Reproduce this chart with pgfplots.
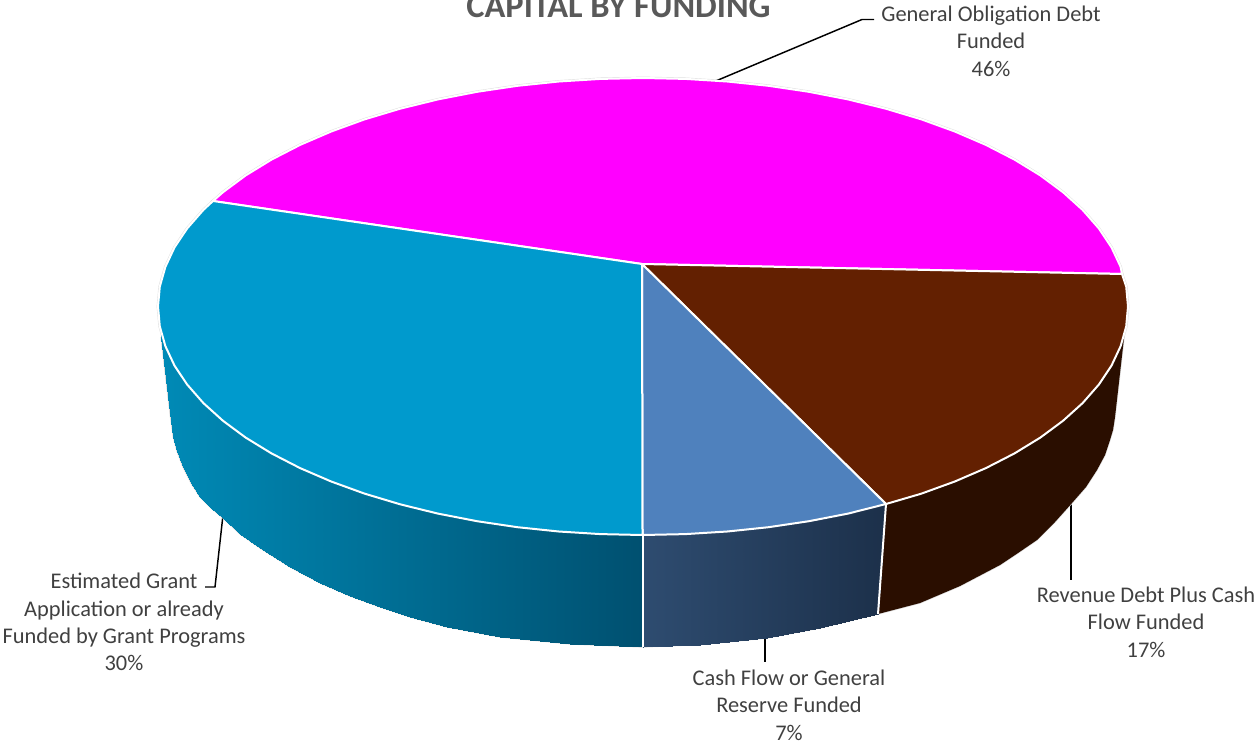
\documentclass[border=0pt]{standalone}
\usepackage{fontspec}
\setmainfont{Carlito}
\usepackage{pgfplots}
\usepackage{pgfplotstable}
\pgfplotsset{compat=1.18}
\definecolor{cMag}{HTML}{FF00FF}
\definecolor{cBrown}{HTML}{632001}
\definecolor{cBrownD}{HTML}{2A0E00}
\definecolor{cSteel}{HTML}{4F81BD}
\definecolor{cBlue}{HTML}{009ACD}
\definecolor{cTxt}{HTML}{404040}
\definecolor{cTitle}{HTML}{595959}
\definecolor{cEdge}{HTML}{DCDCDC}
\pgfplotsset{
 colormap={sideblue}{rgb255=(0,138,182) rgb255=(0,80,112)},
 colormap={sidesteel}{rgb255=(46,76,112) rgb255=(28,48,74)},
}
\tikzset{lab/.style={text=cTxt,align=center,inner sep=0pt,font=\fontsize{16.8}{20.5}\selectfont}}
\pgfplotstableread{
x y
213 201
223.0 192.2
245.7 175.4
271.5 159.6
300.1 144.9
331.2 131.5
364.8 119.3
400.5 108.6
438 99.4
477.1 91.8
517.5 85.8
558.8 81.5
600.7 78.9
643 78
685.3 78.9
727.2 81.5
768.5 85.8
808.9 91.8
848 99.4
885.5 108.6
921.2 119.3
954.8 131.5
985.9 144.9
1014.5 159.6
1040.3 175.4
1063 192.2
1082.6 209.9
1098.8 228.4
1111.5 247.4
1120.6 266.8
1122 274
642 264
}\tMag
\pgfplotstableread{
x y
1122 274
1126.2 286.6
1128 306.5
1126.2 326.4
1120.6 346.2
1111.5 365.6
1098.8 384.6
1082.6 403.1
1063 420.8
1040.3 437.6
1014.5 453.4
985.9 468.1
954.8 481.5
921.2 493.7
886 504
642 264
}\tBrown
\pgfplotstableread{
x y
886 504
848 513.6
808.9 521.2
768.5 527.2
727.2 531.5
685.3 534.1
642.5 535
642 264
}\tSteel
\pgfplotstableread{
x y
642.5 535
600.7 534.1
558.8 531.5
517.5 527.2
477.1 521.2
438 513.6
400.5 504.4
364.8 493.7
331.2 481.5
300.1 468.1
271.5 453.4
245.7 437.6
223 420.8
203.4 403.1
187.2 384.6
174.5 365.6
165.4 346.2
159.8 326.4
158 306.5
159.8 286.6
165.4 266.8
174.5 247.4
187.2 228.4
203.4 209.9
213 201
642 264
}\tBlue
\pgfplotstableread{
x y
161 330
170 330
170 413
161 337
170 330
173.3 330
173.3 437
170 413
173.3 330
177 330
177 451
173.3 437
177 330
183 330
183 467
177 451
183 330
191 330
191 483
183 467
191 330
200 330
200 497
191 483
200 330
211 330
211 508
200 497
211 330
223 330
223 518
211 508
223 330
240 330
240 534
223 518
240 330
260 330
260 548
240 534
260 330
290 330
290 567
260 548
290 330
320 330
320 583
290 567
320 330
350 330
350 596
320 583
350 330
380 330
380 607
350 596
380 330
410 330
410 617
380 607
410 330
447 330
447 627
410 617
447 330
500 330
500 637
447 627
500 330
570 330
570 644
500 637
570 330
643 330
643 647
570 644
}\tBlueSide
\pgfplotstableread{
x y
643 500
700 500
700 644.5
643 647
700 500
767 500
767 638
700 644.5
767 500
820 500
820 628
767 638
820 500
886 500
878 614
820 628
}\tSteelSide
\pgfplotstableread{
x y
886 500
1124 330
1124 338
1115 417
1113 430
1110 440
1105 455
1097 470
1086 487
1072 503
1055 522
1037 540
1018 553
1000 565
960 586
920 603
878 614
}\tBrownSide
\pgfplotstableread{
x y
161 337
170 413
173.3 437
177 451
183 467
191 483
200 497
211 508
223 518
240 534
260 548
290 567
320 583
350 596
380 607
410 617
447 627
500 637
570 644
643 647
700 644.5
767 638
820 628
878 614
920 603
960 586
1000 565
1018 553
1037 540
1055 522
1072 503
1086 487
1097 470
1105 455
1110 440
1113 430
1115 417
1124 338
}\tBottom
\pgfplotstableread{
x y
643 535
643 647
}\tEdgeA
\pgfplotstableread{
x y
886 504
878 614
}\tEdgeB
\begin{document}
\begin{tikzpicture}
\path[use as bounding box,clip] (0,0) rectangle (941.25pt,559.5pt);
\begin{axis}[
  at={(0,0)},anchor=south west,
  scale only axis,width=941.25pt,height=559.5pt,
  xmin=0,xmax=1255,ymin=0,ymax=746,y dir=reverse,
  hide axis,clip=false,
]
% faint outer rim
\addplot[draw=cEdge,line width=2.1pt] table[x=x,y=y] {\tMag} -- cycle;
\addplot[draw=cEdge,line width=2.1pt] table[x=x,y=y] {\tBlue} -- cycle;
\addplot[draw=cEdge,line width=2.1pt] table[x=x,y=y] {\tBrown} -- cycle;
% leader lines
\addplot[black,line width=1.1pt] coordinates {(711,83) (862,19.5) (874,19.5)};
\addplot[black,line width=1.1pt] coordinates {(1071,500) (1071,580)};
\addplot[black,line width=1.1pt] coordinates {(765,636) (765,662)};
\addplot[black,line width=1.1pt] coordinates {(223,515) (215,587) (205,587)};
% side walls
\addplot[draw=cEdge,line width=1pt] table[x=x,y=y] {\tBottom};
\addplot[fill=cBrownD,draw=none] table[x=x,y=y] {\tBrownSide} -- cycle;
\addplot[patch,patch type=rectangle,shader=interp,colormap name=sideblue,point meta=x,point meta rel=per plot] table[x=x,y=y] {\tBlueSide};
\addplot[patch,patch type=rectangle,shader=interp,colormap name=sidesteel,point meta=x,point meta rel=per plot] table[x=x,y=y] {\tSteelSide};
\addplot[white,line width=1.5pt] table[x=x,y=y] {\tEdgeA};
\addplot[white,line width=1.5pt] table[x=x,y=y] {\tEdgeB};
% top faces
\addplot[fill=cMag,draw=white,line width=1.5pt,line join=round] table[x=x,y=y] {\tMag} -- cycle;
\addplot[fill=cBrown,draw=white,line width=1.5pt,line join=round] table[x=x,y=y] {\tBrown} -- cycle;
\addplot[fill=cSteel,draw=white,line width=1.5pt,line join=round] table[x=x,y=y] {\tSteel} -- cycle;
\addplot[fill=cBlue,draw=white,line width=1.5pt,line join=round] table[x=x,y=y] {\tBlue} -- cycle;
% labels
\node[text=cTitle,inner sep=0pt,font=\bfseries\fontsize{25.8}{30}\selectfont] at (axis cs:618.5,6.5) {CAPITAL BY FUNDING};
\node[lab] at (axis cs:991,41) {General Obligation Debt\\Funded\\46\%};
\node[lab] at (axis cs:1146,622) {Revenue Debt Plus Cash\\Flow Funded\\17\%};
\node[lab] at (axis cs:789,705) {Cash Flow or General\\Reserve Funded\\7\%};
\node[lab] at (axis cs:124,622) {Estimated Grant\\Application or already\\Funded by Grant Programs\\30\%};
\end{axis}
\end{tikzpicture}
\end{document}
